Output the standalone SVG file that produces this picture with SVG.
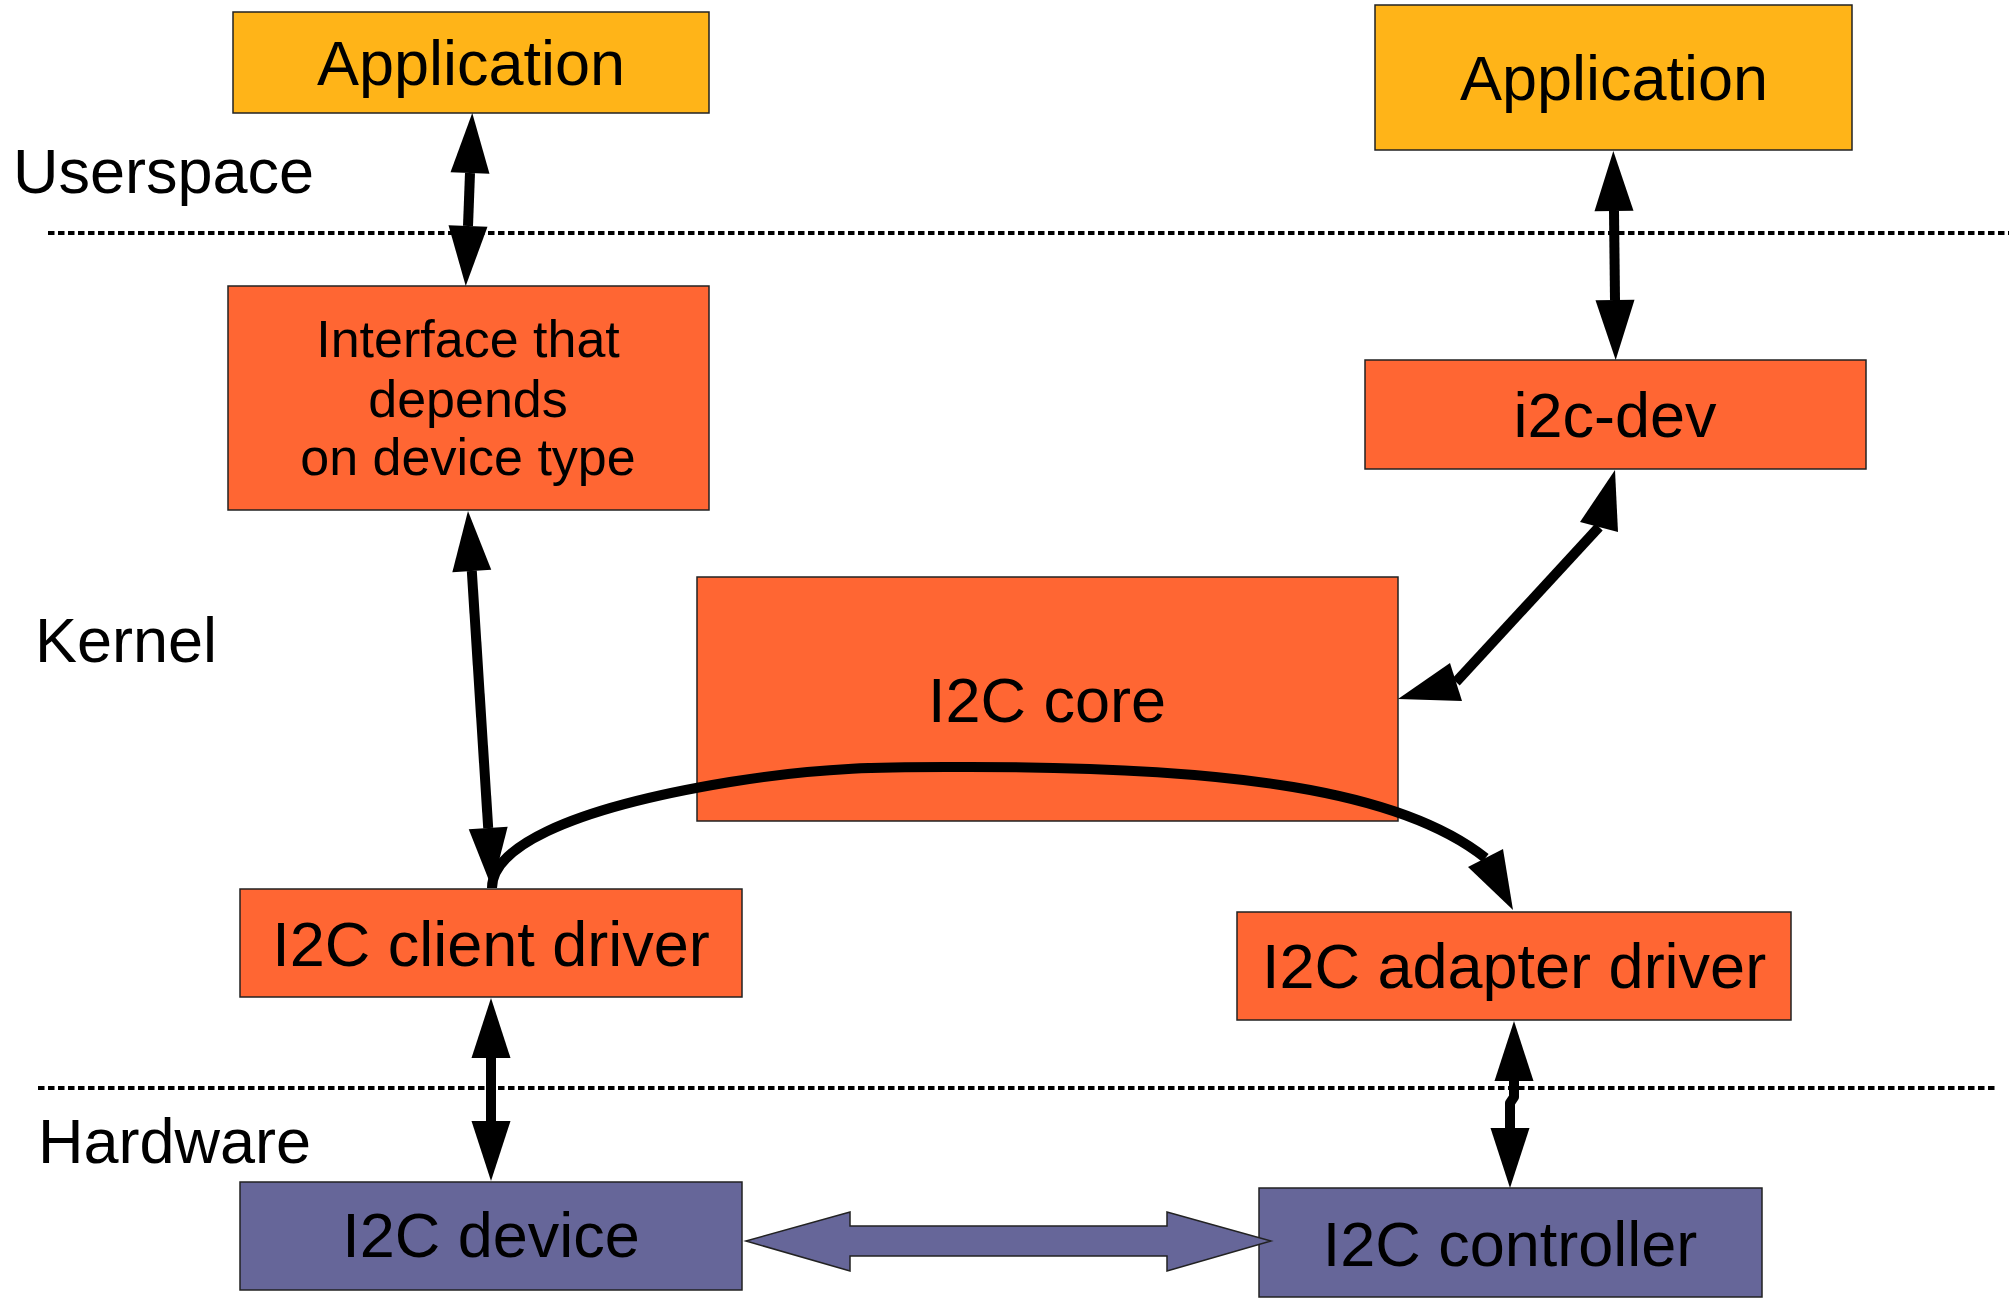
<svg xmlns="http://www.w3.org/2000/svg" width="2013" height="1303" viewBox="0 0 2013 1303">
<style>
.bg{fill:#ffffff}
.box{stroke:#222222;stroke-width:1.5}
.app{fill:#ffb418}
.sw{fill:#ff6633}
.hw{fill:#666699}
.t{font-family:"Liberation Sans",Arial,sans-serif;font-size:63px;fill:#000000;text-anchor:middle}
.t52{font-size:52px}
.lbl{font-family:"Liberation Sans",Arial,sans-serif;font-size:63px;fill:#000000}
.sep{stroke:#000000;stroke-width:4;stroke-dasharray:6.5 3.5;fill:none}
.conn{stroke:#000000;stroke-width:10;fill:none}
.head{fill:#000000}
.big{fill:#666699;stroke:#222222;stroke-width:1.5}
</style>
<defs>
<marker id="ah" markerUnits="userSpaceOnUse" viewBox="0 0 60 39" markerWidth="60" markerHeight="39" refX="0" refY="19.5" orient="auto-start-reverse" overflow="visible">
<path d="M0,0 L60,19.5 L0,39 Z" fill="#000000"/>
</marker>
</defs>
<rect class="bg" x="0" y="0" width="2013" height="1303"/>

<g id="labels">
<text class="lbl" x="13" y="193">Userspace</text>
<text class="lbl" x="35" y="662" font-size="64">Kernel</text>
<text class="lbl" x="38" y="1163">Hardware</text>
</g>

<g id="separators">
<line class="sep" x1="48" y1="233" x2="2009" y2="233"/>
<line class="sep" x1="38" y1="1088" x2="1998" y2="1088"/>
</g>

<g id="app-left">
<rect class="box app" x="233" y="12" width="476" height="101"/>
<text class="t" x="471" y="85">Application</text>
</g>
<g id="interface">
<rect class="box sw" x="228" y="286" width="481" height="224"/>
<text class="t t52" x="468" y="357">Interface that</text>
<text class="t t52" x="468" y="417">depends</text>
<text class="t t52" x="468" y="475">on device type</text>
</g>
<g id="app-right">
<rect class="box app" x="1375" y="5" width="477" height="145"/>
<text class="t" x="1614" y="100">Application</text>
</g>
<g id="i2c-dev">
<rect class="box sw" x="1365" y="360" width="501" height="109"/>
<text class="t" x="1615" y="437">i2c-dev</text>
</g>
<g id="i2c-core">
<rect class="box sw" x="697" y="577" width="701" height="244"/>
<text class="t" x="1047" y="722">I2C core</text>
</g>
<g id="client-driver">
<rect class="box sw" x="240" y="889" width="502" height="108"/>
<text class="t" x="491" y="966">I2C client driver</text>
</g>
<g id="adapter-driver">
<rect class="box sw" x="1237" y="912" width="554" height="108"/>
<text class="t" x="1514" y="988">I2C adapter driver</text>
</g>
<g id="i2c-device">
<rect class="box hw" x="240" y="1182" width="502" height="108"/>
<text class="t" x="491" y="1257">I2C device</text>
</g>
<g id="i2c-controller">
<rect class="box hw" x="1259" y="1188" width="503" height="109"/>
<text class="t" x="1510" y="1266">I2C controller</text>
</g>

<g id="connectors">
<path class="conn" d="M470,173 L468,226" marker-start="url(#ah)" marker-end="url(#ah)"/>
<path class="conn" d="M1614,211 L1615,300" marker-start="url(#ah)" marker-end="url(#ah)"/>
<path class="conn" d="M471.8,570.9 L488.2,828.1" marker-start="url(#ah)" marker-end="url(#ah)"/>
<path class="conn" d="M491,1058 L491,1121" marker-start="url(#ah)" marker-end="url(#ah)"/>
<path class="conn" d="M1514,1081 L1514,1097 L1510,1103 L1510,1128" stroke-linejoin="round" marker-start="url(#ah)" marker-end="url(#ah)"/>
<path class="conn" d="M1599,527 L1456,682"/>
<polygon class="head" points="1615,470 1580,522 1618,532"/>
<polygon class="head" points="1398,699 1450,663 1462,701"/>
<path class="conn" d="M492,888 C492,850 560,810 730,782 C830,765.5 900,767 969,767 C1230,767 1400,790 1485.5,858"/>
<polygon class="head" points="1513,910 1468,867 1503,849"/>
<polygon class="big" points="746,1241 850,1212 850,1226 1167,1226 1167,1212 1271,1241 1167,1271 1167,1256 850,1256 850,1271"/>
</g>
</svg>
